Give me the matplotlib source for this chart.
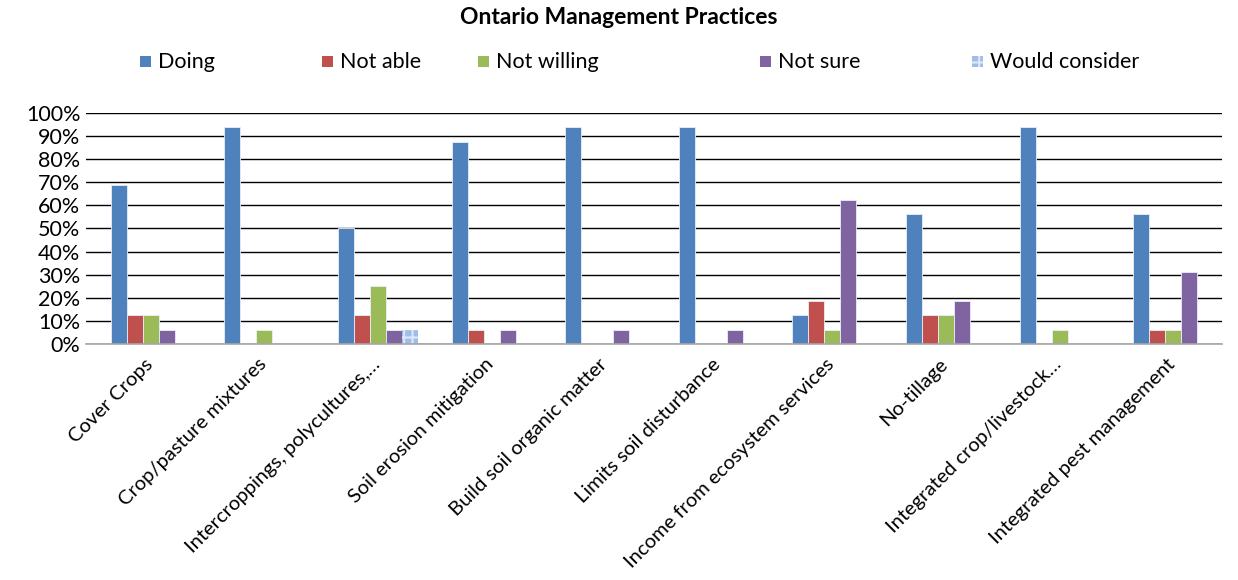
import matplotlib
matplotlib.use("Agg")
import matplotlib.pyplot as plt
import matplotlib.transforms as mtransforms
import numpy as np
from matplotlib.patches import Rectangle

plt.rcParams['font.family'] = ['Lato', 'DejaVu Sans']
plt.rcParams['hatch.linewidth'] = 1.5

categories = [
    "Cover Crops", "Crop/pasture mixtures", "Intercroppings, polycultures,\u2026",
    "Soil erosion mitigation", "Build soil organic matter", "Limits soil disturbance",
    "Income from ecosystem services", "No-tillage", "Integrated crop/livestock\u2026",
    "Integrated pest management",
]
series_names = ["Doing", "Not able", "Not willing", "Not sure", "Would consider"]
doing          = [68.75, 93.75, 50.0, 87.5, 93.75, 93.75, 12.5, 56.25, 93.75, 56.25]
not_able       = [12.5, 0, 12.5, 6.25, 0, 0, 18.75, 12.5, 0, 6.25]
not_willing    = [12.5, 6.25, 25.0, 0, 0, 0, 6.25, 12.5, 6.25, 6.25]
not_sure       = [6.25, 0, 6.25, 6.25, 6.25, 6.25, 62.5, 18.75, 0, 31.25]
would_consider = [0, 0, 6.25, 0, 0, 0, 0, 0, 0, 0]
yticks = [0, 10, 20, 30, 40, 50, 60, 70, 80, 90, 100]

colors = ["#4f81bd", "#c0504d", "#9bbb59", "#8064a2", "#9fbde9"]
series = [doing, not_able, not_willing, not_sure, would_consider]

fig = plt.figure(figsize=(12.38, 5.80), dpi=100)
W, H = 1238, 580
ax = fig.add_axes([86 / W, 1 - 344 / H, (1222 - 86) / W, (344 - 113) / H])

x = np.arange(len(categories))
bw = 0.141
for i, (vals, c) in enumerate(zip(series, colors)):
    offs = (i - 1.5) * bw
    if i == 4:
        ax.bar(x + offs, vals, bw, color=c, edgecolor="#dce7f7", hatch="++",
               linewidth=0, zorder=3)
    else:
        ax.bar(x + offs, vals, bw, color=c, edgecolor="#e8eef8", linewidth=0.6,
               zorder=3)

ax.set_xlim(-0.5, len(categories) - 0.5)
ax.set_ylim(0, 100)
ax.set_yticks(yticks)
ax.set_yticklabels([f"{t}%" for t in yticks], fontsize=15.5)
ax.yaxis.grid(True, color="black", linewidth=1.0, zorder=0)
ax.set_axisbelow(True)
for s in ["left", "right", "top"]:
    ax.spines[s].set_visible(False)
ax.spines["bottom"].set_color("#a6a6a6")
ax.spines["bottom"].set_linewidth(1.2)
ax.spines["bottom"].set_zorder(4)
ax.tick_params(axis="y", length=0, pad=4)
ax.tick_params(axis="x", length=0, pad=6)
ax.set_xticks(x)
ax.set_xticklabels(categories, rotation=45, ha="right", va="top",
                   rotation_mode="anchor", fontsize=14.5)
shift = mtransforms.ScaledTranslation(1 / 100, -3 / 100, fig.dpi_scale_trans)
for lbl in ax.get_xticklabels():
    lbl.set_transform(lbl.get_transform() + shift)

fig.text(619 / W, 1 - 18 / H, "Ontario Management Practices", ha="center",
         va="center", fontsize=16.5, fontweight="bold")

# legend entries placed along one row
leg_x = [140, 322, 478, 760, 972]
leg_y = 62
for name, c, lx in zip(series_names, colors, leg_x):
    rect = Rectangle(((lx) / W, 1 - (leg_y + 5) / H), 11 / W, 11 / H,
                     transform=fig.transFigure, facecolor=c,
                     edgecolor="#dce7f7" if name == "Would consider" else c,
                     hatch="++" if name == "Would consider" else None,
                     linewidth=0)
    fig.patches.append(rect)
    fig.text((lx + 18) / W, 1 - leg_y / H, name, ha="left", va="center",
             fontsize=15.5)

fig.savefig("out.png", dpi=100)
